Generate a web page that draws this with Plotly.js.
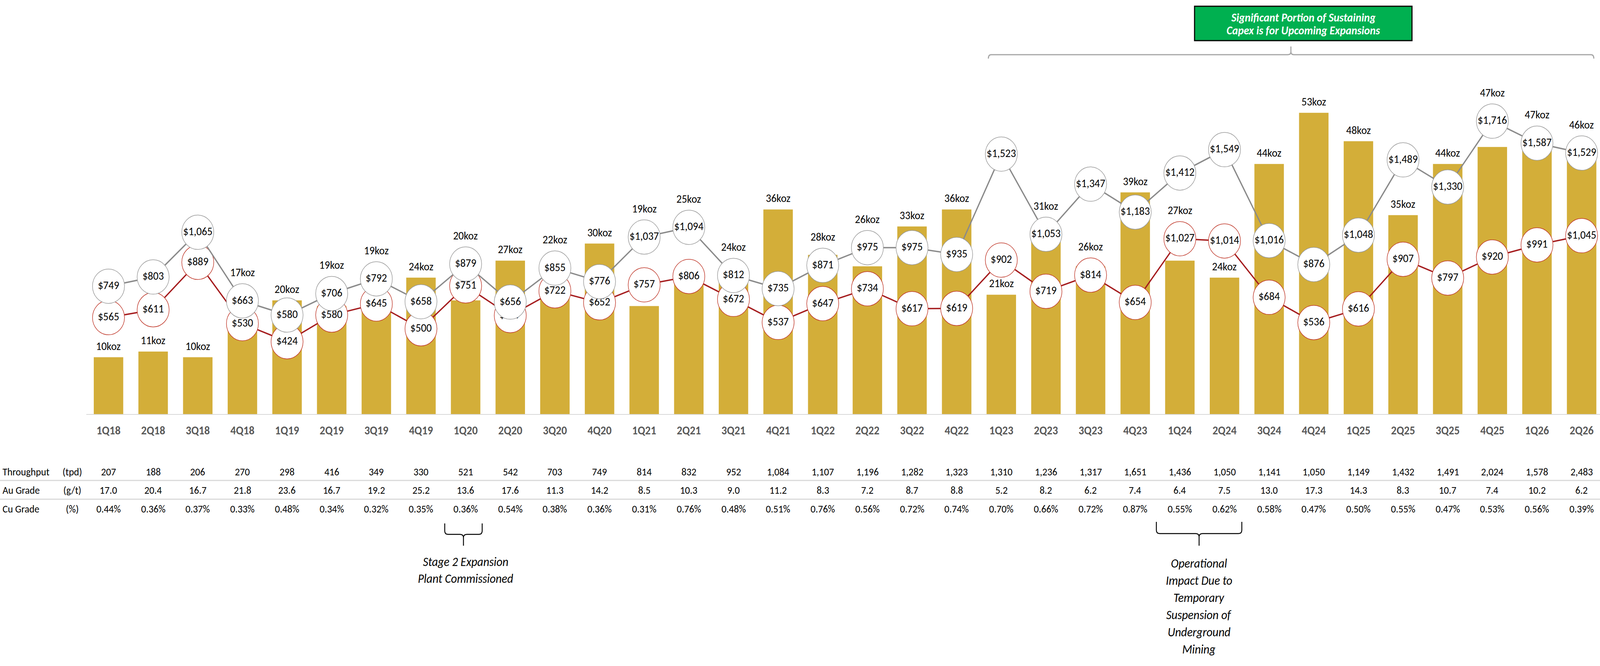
<!DOCTYPE html>
<html>
<head>
<meta charset="utf-8">
<script src="https://cdn.plot.ly/plotly-3.0.1.min.js"></script>
<style>
  html, body { margin: 0; padding: 0; background: #fff; overflow: hidden; }
  #chart { width: 4400px; height: 1705px; transform-origin: 0 0; }
</style>
</head>
<body>
<div id="chart"></div>
<script>
// quarters on the x axis
var quarters = ["1Q18", "2Q18", "3Q18", "4Q18", "1Q19", "2Q19", "3Q19", "4Q19",
  "1Q20", "2Q20", "3Q20", "4Q20", "1Q21", "2Q21", "3Q21", "4Q21",
  "1Q22", "2Q22", "3Q22", "4Q22", "1Q23", "2Q23", "3Q23", "4Q23",
  "1Q24", "2Q24", "3Q24", "4Q24", "1Q25", "2Q25", "3Q25", "4Q25",
  "1Q26", "2Q26"];

// gold production (koz), bars
var goldKoz = [10, 11, 10, 17, 20, 19, 19, 24, 20, 27, 22, 30, 19, 25, 24, 36,
  28, 26, 33, 36, 21, 31, 26, 39, 27, 24, 44, 53, 48, 35, 44, 47, 47, 46];

// grey line ($/oz)
var aiscUsd = [749, 803, 1065, 663, 580, 706, 792, 658, 879, 656, 855, 776, 1037, 1094, 812, 735,
  871, 975, 975, 935, 1523, 1053, 1347, 1183, 1412, 1549, 1016, 876, 1048, 1489, 1330, 1716, 1587, 1529];

// red line ($/oz)
var cashCostUsd = [565, 611, 889, 530, 424, 580, 645, 500, 751, 577, 722, 652, 757, 806, 672, 537,
  647, 734, 617, 619, 902, 719, 814, 654, 1027, 1014, 684, 536, 616, 907, 797, 920, 991, 1045];

// table rows under the chart
var throughputTpd = [207, 188, 206, 270, 298, 416, 349, 330, 521, 542, 703, 749, 814, 832, 952, 1084,
  1107, 1196, 1282, 1323, 1310, 1236, 1317, 1651, 1436, 1050, 1141, 1050, 1149, 1432, 1491, 2024, 1578, 2483];
var auGrade = [17.0, 20.4, 16.7, 21.8, 23.6, 16.7, 19.2, 25.2, 13.6, 17.6, 11.3, 14.2, 8.5, 10.3, 9.0, 11.2,
  8.3, 7.2, 8.7, 8.8, 5.2, 8.2, 6.2, 7.4, 6.4, 7.5, 13.0, 17.3, 14.3, 8.3, 10.7, 7.4, 10.2, 6.2];
var cuGrade = [0.44, 0.36, 0.37, 0.33, 0.48, 0.34, 0.32, 0.35, 0.36, 0.54, 0.38, 0.36, 0.31, 0.76, 0.48, 0.51,
  0.76, 0.56, 0.72, 0.74, 0.70, 0.66, 0.72, 0.87, 0.55, 0.62, 0.58, 0.47, 0.50, 0.55, 0.47, 0.53, 0.56, 0.39];

var tableRows = [
  { label: "Throughput", unit: "(tpd)", values: throughputTpd.map(function (v) { return v.toLocaleString("en-US"); }) },
  { label: "Au Grade", unit: "(g/t)", values: auGrade.map(function (v) { return v.toFixed(1); }) },
  { label: "Cu Grade", unit: "(%)", values: cuGrade.map(function (v) { return v.toFixed(2) + "%"; }) }
];

var stage2Note = ["Stage 2 Expansion", "Plant Commissioned"];
var suspensionNote = ["Operational", "Impact Due to", "Temporary", "Suspension of", "Underground", "Mining"];
var capexNote = ["Significant Portion of Sustaining", "Capex is for Upcoming Expansions"];

var FONT = "Carlito, Calibri, Lato, sans-serif";

// page geometry (pixels of the 4400x1705 design)
var W = 4400, H = 1705;
var L = 237, T = 100, B = 645;
var plotW = W - L, plotH = H - T - B;
var baseY = T + plotH;
var PX_PER_KOZ = 14.55, PX_PER_USD = 0.437;
var step = 122.76;

function px2x(p) { return (p - L) / plotW; }
function py2y(p) { return (baseY - p) / plotH; }
function pt(x, y) { return px2x(x).toFixed(5) + "," + py2y(y).toFixed(5); }

// koz label sits just above the bar, pushed above any circle it would hit
var R = 44, GAP = 29, HALF = 14;
function kozLabelY(i) {
  var y = goldKoz[i] * PX_PER_KOZ + GAP;
  var circles = [aiscUsd[i], cashCostUsd[i]].map(function (v) { return v * PX_PER_USD; });
  var moved = true;
  while (moved) {
    moved = false;
    circles.forEach(function (c) {
      if (y - HALF < c + R && y + HALF > c - R) { y = c + R + GAP; moved = true; }
    });
  }
  return y / PX_PER_KOZ;
}

var barTrace = {
  type: "bar",
  x: quarters,
  y: goldKoz,
  marker: { color: "#D3AE39" },
  hoverinfo: "skip"
};

function dollarTrace(values, lineColor, edgeColor) {
  return {
    type: "scatter",
    mode: "lines+markers+text",
    x: quarters,
    y: values,
    yaxis: "y2",
    line: { color: lineColor, width: 3.5 },
    marker: { size: 88, color: "#ffffff", line: { color: edgeColor, width: 1.5 } },
    text: values.map(function (v) { return "$" + v.toLocaleString("en-US"); }),
    textposition: "middle center",
    textfont: { family: FONT, size: 29, color: "#000000" },
    cliponaxis: false,
    hoverinfo: "skip"
  };
}

var cashTrace = dollarTrace(cashCostUsd, "#A51C1E", "#C0392B");
var aiscTrace = dollarTrace(aiscUsd, "#8A8A8A", "#9A9A9A");

var annotations = [];

// koz labels
quarters.forEach(function (q, i) {
  annotations.push({
    x: q, y: kozLabelY(i), xref: "x", yref: "y", xanchor: "center", yanchor: "middle",
    text: goldKoz[i] + "koz", showarrow: false,
    font: { family: FONT, size: 29, color: "#000000" }
  });
});

// table under the chart
var rowY = [1207, 1254, 1302];
tableRows.forEach(function (row, r) {
  annotations.push({
    x: px2x(5), y: py2y(rowY[r]), xref: "paper", yref: "paper", xanchor: "left", yanchor: "middle",
    text: row.label, showarrow: false, font: { family: FONT, size: 27, color: "#000000" }
  });
  annotations.push({
    x: px2x(199), y: py2y(rowY[r]), xref: "paper", yref: "paper", xanchor: "center", yanchor: "middle",
    text: row.unit, showarrow: false, font: { family: FONT, size: 27, color: "#000000" }
  });
  row.values.forEach(function (v, i) {
    annotations.push({
      x: quarters[i], y: py2y(rowY[r]), xref: "x", yref: "paper", xanchor: "center", yanchor: "middle",
      text: v, showarrow: false, font: { family: FONT, size: 27, color: "#000000" }
    });
  });
});

// stacked lines of centred text
function textLines(lines, cx, y0, dy, fmt, size, color) {
  lines.forEach(function (t, k) {
    annotations.push({
      x: px2x(cx), y: py2y(y0 + k * dy), xref: "paper", yref: "paper", xanchor: "center", yanchor: "middle",
      text: fmt(t), showarrow: false, font: { family: FONT, size: size, color: color }
    });
  });
}
var italic = function (t) { return "<i>" + t + "</i>"; };
var boldItalic = function (t) { return "<b><i>" + t + "</i></b>"; };
textLines(stage2Note, 1280, 1438, 43, italic, 32, "#000000");
textLines(suspensionNote, 3297, 1442, 44, italic, 32, "#000000");
textLines(capexNote, 3584, 45, 33, boldItalic, 30, "#ffffff");

// brace opening upward, tip pointing down
function braceDown(x0, x1, top, mid, tip) {
  var c = (x0 + x1) / 2, r = 9;
  return "M" + pt(x0, top) + " L" + pt(x0, mid - r) + " Q" + pt(x0, mid) + " " + pt(x0 + r, mid) +
    " L" + pt(c - r, mid) + " Q" + pt(c, mid) + " " + pt(c, mid + r) + " L" + pt(c, tip) +
    " M" + pt(c, mid + r) + " Q" + pt(c, mid) + " " + pt(c + r, mid) +
    " L" + pt(x1 - r, mid) + " Q" + pt(x1, mid) + " " + pt(x1, mid - r) + " L" + pt(x1, top);
}
// brace opening downward, tip pointing up
function braceUp(x0, x1, tipX, bottom, mid, tip) {
  var r = 8;
  return "M" + pt(x0, bottom) + " Q" + pt(x0, mid) + " " + pt(x0 + r, mid) +
    " L" + pt(tipX - r, mid) + " Q" + pt(tipX, mid) + " " + pt(tipX, mid - r) + " L" + pt(tipX, tip) +
    " M" + pt(tipX, mid - r) + " Q" + pt(tipX, mid) + " " + pt(tipX + r, mid) +
    " L" + pt(x1 - r, mid) + " Q" + pt(x1, mid) + " " + pt(x1, bottom);
}

var shapes = [
  { type: "line", xref: "paper", yref: "paper", x0: px2x(0), x1: px2x(W), y0: py2y(1230), y1: py2y(1230),
    line: { color: "#D9D9D9", width: 3 } },
  { type: "line", xref: "paper", yref: "paper", x0: px2x(0), x1: px2x(W), y0: py2y(1278), y1: py2y(1278),
    line: { color: "#D9D9D9", width: 3 } },
  { type: "path", xref: "paper", yref: "paper", path: braceDown(1223, 1326, 1340, 1368, 1397),
    line: { color: "#000000", width: 2.5 } },
  { type: "path", xref: "paper", yref: "paper", path: braceDown(3180, 3415, 1336, 1366, 1397),
    line: { color: "#000000", width: 2.5 } },
  { type: "path", xref: "paper", yref: "paper", path: braceUp(2718, 4383, 3550, 150, 140, 119),
    line: { color: "#A6A6A6", width: 3 } },
  { type: "rect", xref: "paper", yref: "paper", x0: px2x(3285), x1: px2x(3883), y0: py2y(16), y1: py2y(104),
    fillcolor: "#00B050", line: { color: "#000000", width: 3 }, layer: "below" }
];

var layout = {
  width: W,
  height: H,
  margin: { l: L, r: 0, t: T, b: B, pad: 0 },
  paper_bgcolor: "#ffffff",
  plot_bgcolor: "#ffffff",
  showlegend: false,
  hovermode: false,
  bargap: 0.34,
  xaxis: {
    type: "category",
    range: [-0.5, -0.5 + plotW / step],
    showgrid: false,
    zeroline: false,
    showline: true,
    linecolor: "#D9D9D9",
    linewidth: 2,
    ticks: "",
    ticklabelstandoff: 14,
    tickfont: { family: FONT, size: 30, color: "#595959", weight: "bold" },
    fixedrange: true
  },
  yaxis: {
    range: [0, plotH / PX_PER_KOZ],
    visible: false,
    showgrid: false,
    zeroline: false,
    fixedrange: true
  },
  yaxis2: {
    range: [0, plotH / PX_PER_USD],
    overlaying: "y",
    side: "right",
    visible: false,
    showgrid: false,
    zeroline: false,
    fixedrange: true
  },
  annotations: annotations,
  shapes: shapes
};

// the browser viewport can be narrower than the design; stretch the design to fill it
function fitToWindow() {
  var el = document.getElementById("chart");
  var sx = document.documentElement.clientWidth / W;
  var sy = document.documentElement.clientHeight / H;
  el.style.transform = "scale(" + sx + "," + sy + ")";
}
fitToWindow();
window.addEventListener("resize", fitToWindow);

Plotly.newPlot("chart", [barTrace, cashTrace, aiscTrace], layout, { staticPlot: true, displayModeBar: false });
</script>
</body>
</html>
